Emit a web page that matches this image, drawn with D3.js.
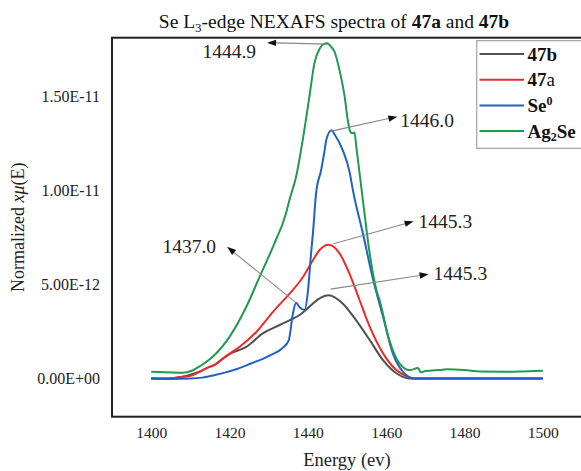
<!DOCTYPE html>
<html>
<head>
<meta charset="utf-8">
<script src="https://cdn.jsdelivr.net/npm/d3@7"></script>
<style>
  body { margin: 0; background: #fff; }
  svg { display: block; font-family: "Liberation Serif", "Times New Roman", serif; }
</style>
</head>
<body>
<svg width="581" height="471"></svg>
<script>
// energies (eV) and normalized x-mu(E) in units of 1e-12
const ag2seE = [1400, 1403.8, 1408.1, 1410.2, 1411.5, 1413.5, 1415.7, 1420, 1424.3, 1427.7, 1431.1, 1432.3, 1433.5, 1434.5, 1435.3, 1437, 1438.7, 1440.4, 1441.7, 1443, 1444, 1444.9, 1446, 1446.8, 1448.1, 1449.4, 1450.2, 1450.8, 1451.3, 1451.9, 1452.4, 1454.05, 1455.8, 1457.5, 1458.3, 1460.8, 1463.4, 1466, 1468.1, 1468.9, 1470, 1473.6, 1475.6, 1480, 1484.1, 1490, 1495, 1500];
const ag2seV = [0.36, 0.34, 0.31, 0.4, 0.54, 0.8, 1.16, 2.22, 3.82, 5.42, 7.01, 7.6, 8.2, 8.85, 9.5, 10.74, 12.7, 15.0, 16.8, 17.55, 17.8, 17.85, 17.65, 17.4, 16.4, 15.0, 13.76, 13.15, 13.05, 13.1, 12.3, 9.5, 6.65, 4.71, 4.18, 2.05, 0.81, 0.45, 0.56, 0.33, 0.4, 0.46, 0.49, 0.45, 0.37, 0.36, 0.38, 0.41];

const se0E = [1400, 1405, 1410, 1413, 1416.5, 1421, 1425.5, 1428.5, 1430.5, 1433.4, 1435.15, 1436.2, 1437, 1437.9, 1439.2, 1440, 1440.9, 1441.3, 1442.1, 1443.4, 1444.3, 1444.7, 1446, 1446.8, 1448.9, 1450.65, 1451.5, 1454.05, 1456.6, 1459.2, 1461.7, 1464.3, 1467.3, 1480, 1500];
const se0V = [0, -0.02, 0, 0.05, 0.2, 0.45, 0.8, 1.05, 1.25, 1.6, 2.05, 3.47, 4.03, 3.8, 3.65, 4.6, 6.84, 7.73, 9.86, 11.1, 12.16, 12.7, 13.22, 13.0, 12.16, 11.0, 10.03, 7.73, 5.33, 3.29, 1.34, 0.36, 0, 0, 0];

const s47aE = [1400, 1404, 1408.1, 1409.8, 1412.3, 1414.05, 1416.5, 1418.3, 1420, 1422.6, 1426.9, 1431.1, 1435.4, 1437.9, 1438.8, 1441.3, 1443, 1445.3, 1448.1, 1450.6, 1453.2, 1455.8, 1459.2, 1462.6, 1466, 1467.3, 1480, 1500];
const s47aV = [0, 0, 0.1, 0.13, 0.36, 0.54, 0.77, 1.07, 1.32, 1.69, 2.49, 3.55, 4.53, 5.15, 5.42, 6.3, 6.84, 7.12, 6.66, 5.6, 4.18, 2.76, 1.34, 0.45, 0.06, 0, 0, 0];

const s47bE = [1400, 1404, 1408.1, 1412.3, 1414.05, 1416.5, 1418.3, 1420, 1424.3, 1428.5, 1432.8, 1435.4, 1437.9, 1440.4, 1443, 1445.3, 1448.9, 1452.3, 1455.8, 1459.2, 1462.6, 1466, 1480, 1500];
const s47bV = [0, 0, 0.1, 0.36, 0.54, 0.77, 1.05, 1.3, 1.69, 2.4, 2.85, 3.11, 3.38, 3.82, 4.27, 4.44, 4.0, 3.11, 2.05, 0.98, 0.28, 0, 0, 0];

const xTicks = [1400, 1420, 1440, 1460, 1480, 1500];
const yTicks = [0, 5, 10, 15];
const yTickLabels = ["0.00E+00", "5.00E-12", "1.00E-11", "1.50E-11"];

// peak labels: text, anchor energy, anchor value
const annoText = ["1444.9", "1446.0", "1445.3", "1445.3", "1437.0"];
const annoE = [1444.9, 1446.0, 1445.3, 1445.3, 1437.0];
const annoV = [17.85, 13.22, 7.12, 4.44, 4.03];

const series = [
  { key: "47b", E: s47bE, V: s47bV, color: "#505050" },
  { key: "47a", E: s47aE, V: s47aV, color: "#ec2b2b" },
  { key: "Se0", E: se0E, V: se0V, color: "#2160c4" },
  { key: "Ag2Se", E: ag2seE, V: ag2seV, color: "#1f9a4e" }
];

const svg = d3.select("svg");
const mLeft = 112, mRight = 582, mTop = 37.7, mBottom = 416.7;

const x = d3.scaleLinear().domain([1390, 1510]).range([mLeft, mRight]);
const y = d3.scaleLinear().domain([-2.03, 18.14]).range([mBottom, mTop]);

// title
const title = svg.append("text")
  .attr("x", 334).attr("y", 28)
  .attr("text-anchor", "middle")
  .attr("font-size", 19.5)
  .attr("fill", "#111");
title.append("tspan").text("Se L");
title.append("tspan").text("3").attr("font-size", 13).attr("baseline-shift", "-4");
title.append("tspan").text("-edge NEXAFS spectra of ");
title.append("tspan").text("47a").attr("font-weight", "bold");
title.append("tspan").text(" and ");
title.append("tspan").text("47b").attr("font-weight", "bold");

// axes (labels only, no tick marks)
const xAxis = svg.append("g")
  .attr("transform", `translate(0,${mBottom})`)
  .call(d3.axisBottom(x).tickValues(xTicks).tickSize(0).tickPadding(10).tickFormat(d3.format("d")));
xAxis.select(".domain").remove();
xAxis.selectAll("text").attr("font-family", "Liberation Serif").attr("font-size", 15.5).attr("fill", "#222");

const yAxis = svg.append("g")
  .attr("transform", `translate(${mLeft},0)`)
  .call(d3.axisLeft(y).tickValues(yTicks).tickSize(0).tickPadding(12)
    .tickFormat((d, i) => yTickLabels[i]));
yAxis.select(".domain").remove();
yAxis.selectAll("text").attr("font-family", "Liberation Serif").attr("font-size", 16).attr("fill", "#222");

// frame
svg.append("rect")
  .attr("x", mLeft).attr("y", mTop)
  .attr("width", mRight - mLeft).attr("height", mBottom - mTop)
  .attr("fill", "none").attr("stroke", "#222").attr("stroke-width", 2);

// axis titles
const yl = svg.append("text")
  .attr("transform", `translate(24,${(mTop + mBottom) / 2}) rotate(-90)`)
  .attr("text-anchor", "middle")
  .attr("font-size", 18)
  .attr("fill", "#222");
yl.append("tspan").text("Normalized ");
yl.append("tspan").text("xμ").attr("font-style", "italic");
yl.append("tspan").text("(E)");

svg.append("text")
  .attr("x", (mLeft + mRight) / 2).attr("y", 466)
  .attr("text-anchor", "middle")
  .attr("font-size", 18.5)
  .attr("fill", "#222")
  .text("Energy (ev)");

// curves
const line = d3.line()
  .x(d => x(d[0]))
  .y(d => y(d[1]))
  .curve(d3.curveMonotoneX);

svg.append("g")
  .selectAll("path")
  .data(series)
  .join("path")
  .attr("d", s => line(s.E.map((e, i) => [e, s.V[i]])))
  .attr("fill", "none")
  .attr("stroke", s => s.color)
  .attr("stroke-width", 2)
  .attr("stroke-linejoin", "round");

// peak annotations: arrow start offset, arrow tip offset (from start), text pos
const annoLayout = [
  { sx: 0, sy: 1, tx: -60, ty: -1.5, lx: -11, ly: 15, anchor: "end" },
  { sx: 0, sy: 1, tx: 66, ty: -14.5, lx: 3, ly: 10, anchor: "start" },
  { sx: 5, sy: -1, tx: 80, ty: -22.5, lx: 5, ly: 7, anchor: "start" },
  { sx: 2, sy: -6, tx: 98, ty: -15, lx: 5, ly: 6, anchor: "start" },
  { sx: -1, sy: -1, tx: -68, ty: -55, lx: -11, ly: 6, anchor: "end" }
];

const annoG = svg.append("g");
annoText.forEach((t, i) => {
  const L = annoLayout[i];
  const x0 = x(annoE[i]) + L.sx, y0 = y(annoV[i]) + L.sy;
  const x1 = x0 + L.tx, y1 = y0 + L.ty;
  const ang = Math.atan2(y1 - y0, x1 - x0);
  const hl = 9, hw = 3.2;
  const bx = x1 - hl * Math.cos(ang), by = y1 - hl * Math.sin(ang);
  annoG.append("line")
    .attr("x1", x0).attr("y1", y0).attr("x2", bx).attr("y2", by)
    .attr("stroke", "#888").attr("stroke-width", 1.1);
  annoG.append("path")
    .attr("d", `M${x1},${y1}L${bx - hw * Math.sin(ang)},${by + hw * Math.cos(ang)}L${bx + hw * Math.sin(ang)},${by - hw * Math.cos(ang)}Z`)
    .attr("fill", "#111");
  annoG.append("text")
    .attr("x", x1 + L.lx).attr("y", y1 + L.ly)
    .attr("text-anchor", L.anchor)
    .attr("font-size", 19.5)
    .attr("fill", "#222")
    .text(t);
});

// legend
const lg = svg.append("g");
lg.append("rect")
  .attr("x", 476.7).attr("y", 40.7)
  .attr("width", 120).attr("height", 107.6)
  .attr("fill", "#fff").attr("stroke", "#a0a0a0").attr("stroke-width", 1.2);

const legendY = [54, 79.7, 105.4, 131];
series.forEach((s, i) => {
  lg.append("line")
    .attr("x1", 479.5).attr("x2", 524)
    .attr("y1", legendY[i]).attr("y2", legendY[i])
    .attr("stroke", s.color).attr("stroke-width", 2);
  const t = lg.append("text")
    .attr("x", 527.5).attr("y", legendY[i] + 6.5)
    .attr("font-size", 19)
    .attr("font-weight", "bold")
    .attr("fill", "#111");
  if (s.key === "47b") t.text("47b");
  if (s.key === "47a") {
    t.append("tspan").text("47");
    t.append("tspan").text("a").attr("font-weight", "normal");
  }
  if (s.key === "Se0") {
    t.append("tspan").text("Se");
    t.append("tspan").text("0").attr("font-size", 12).attr("baseline-shift", "7");
  }
  if (s.key === "Ag2Se") {
    t.append("tspan").text("Ag");
    t.append("tspan").text("2").attr("font-size", 12).attr("baseline-shift", "-3");
    t.append("tspan").text("Se");
  }
});
</script>
</body>
</html>
